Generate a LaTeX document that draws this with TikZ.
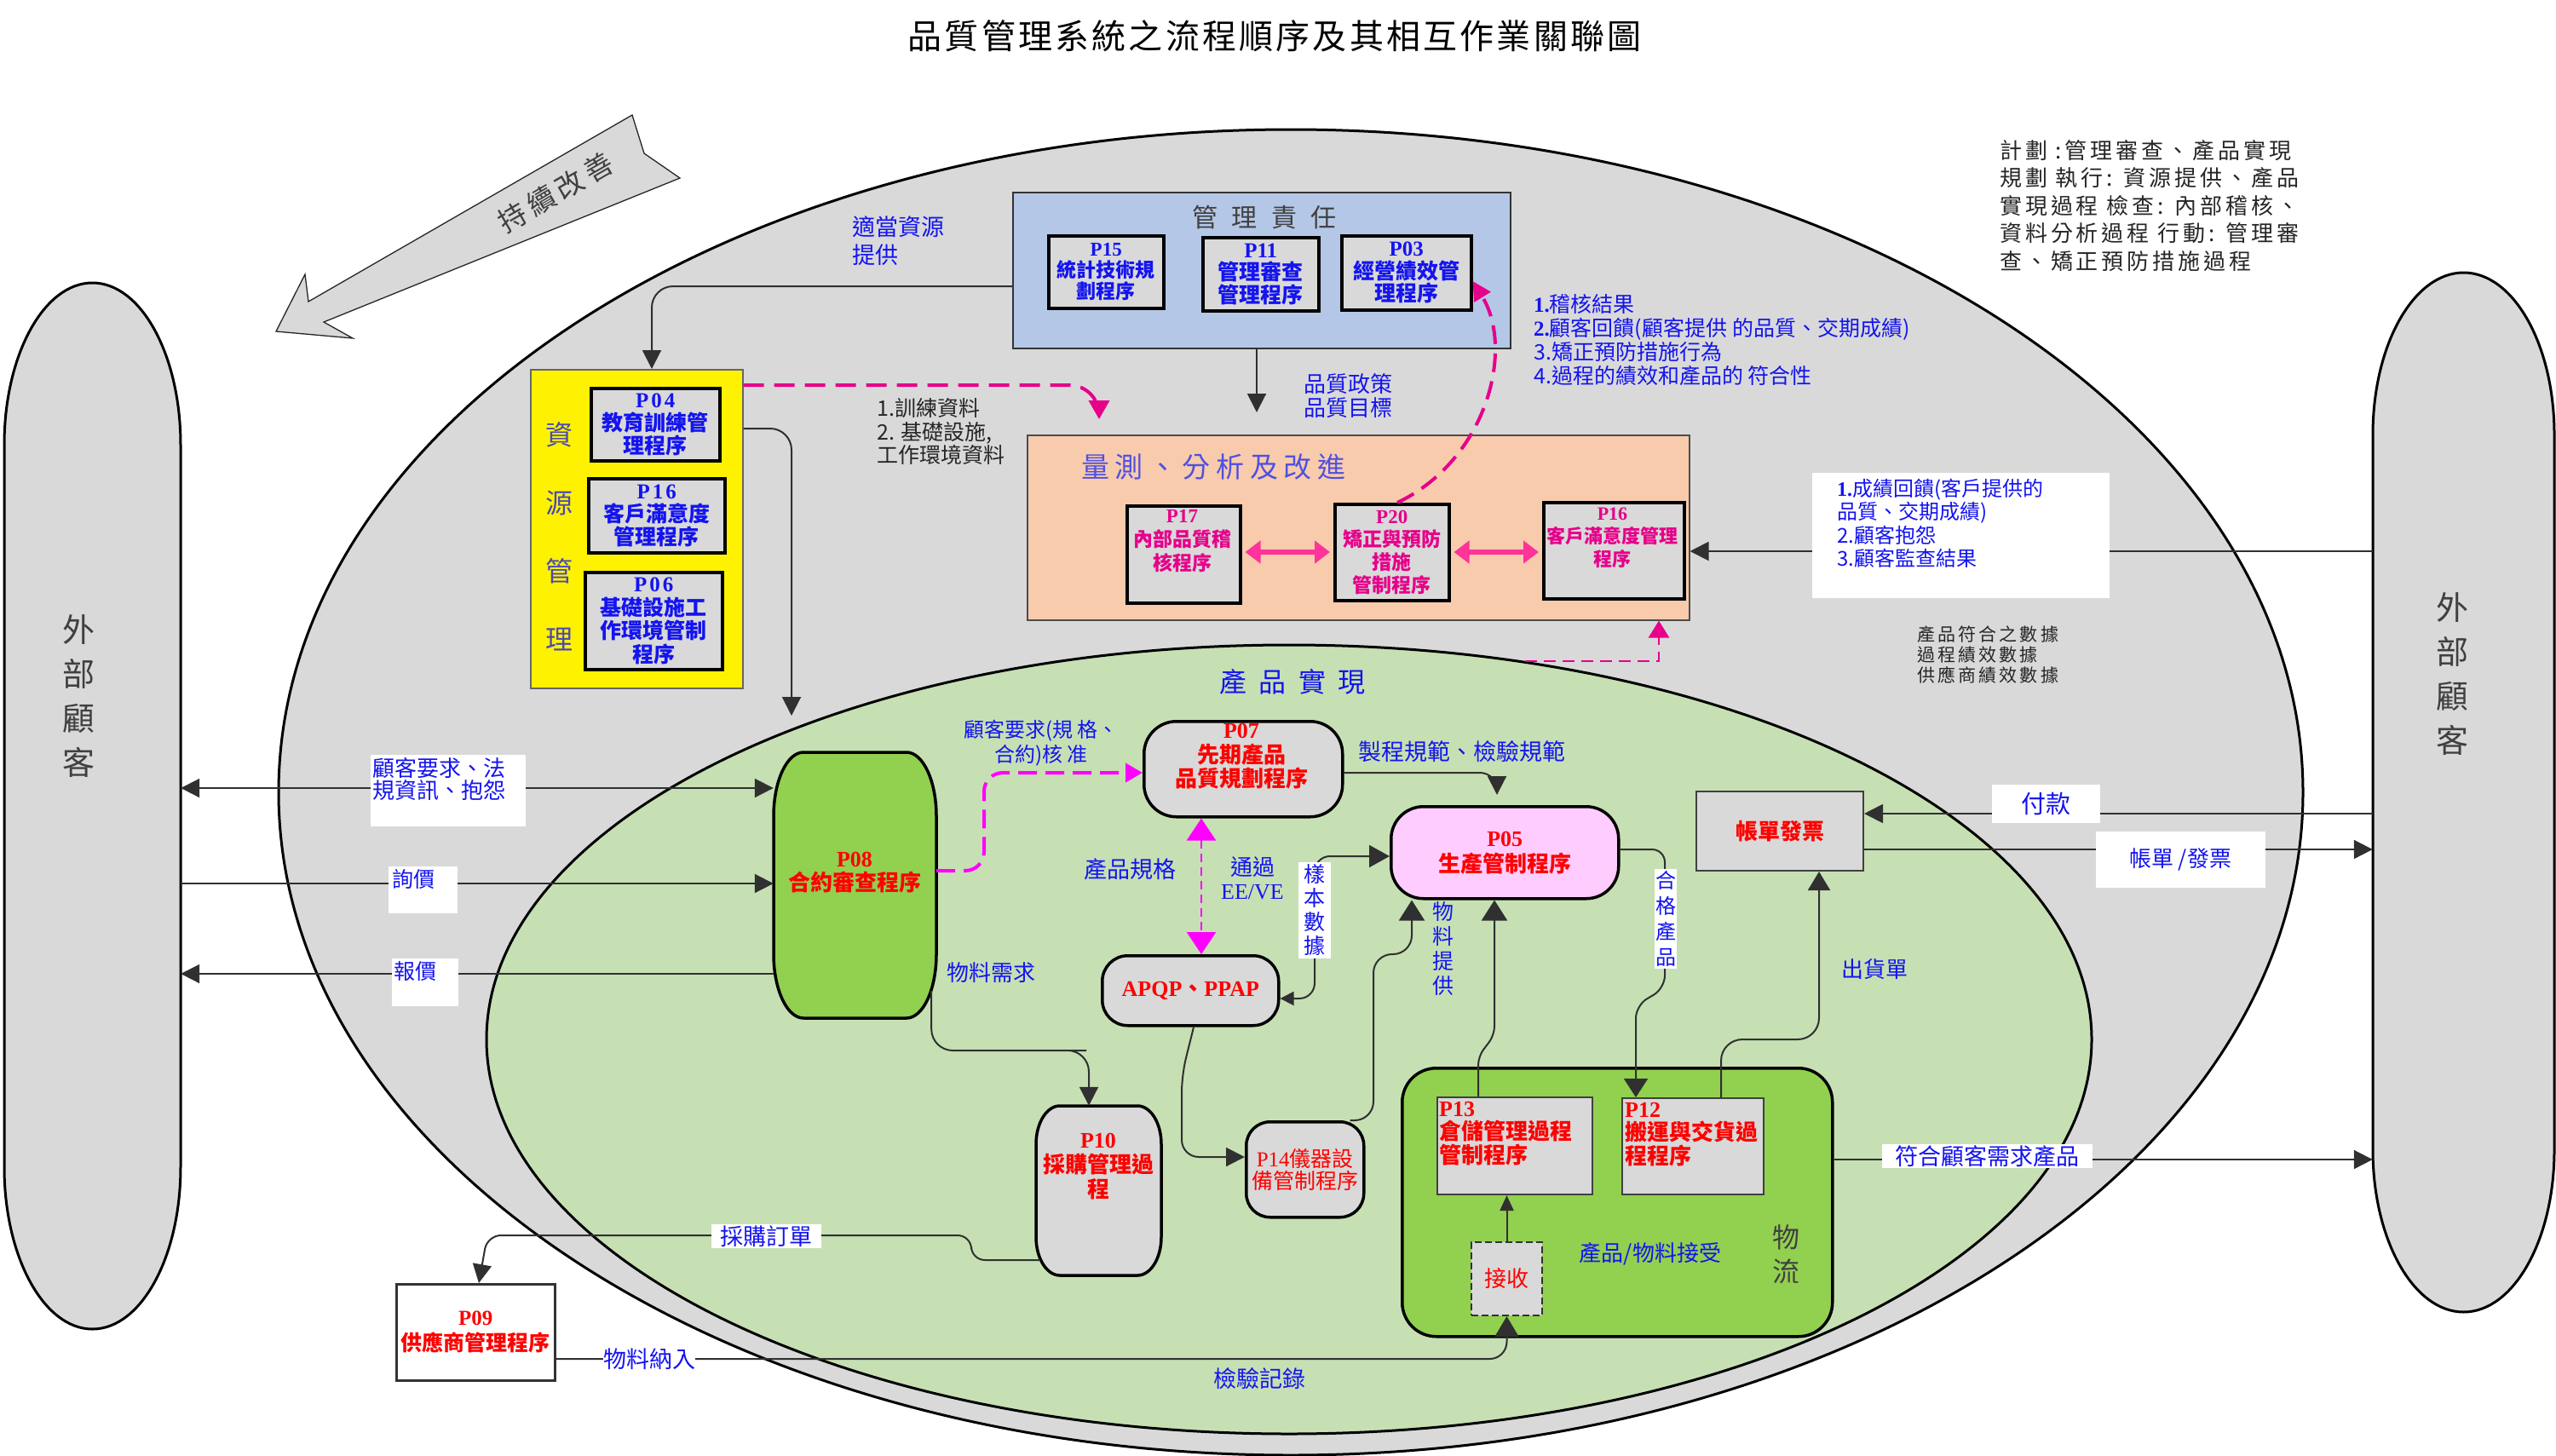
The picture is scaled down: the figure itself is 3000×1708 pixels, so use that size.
\documentclass[tikz,border=0pt]{standalone}
\usepackage{fontspec}
\setmainfont{Noto Sans CJK TC}
\newfontfamily\ser{Liberation Serif}
\newfontfamily\serw{Liberation Serif}[LetterSpace=12]
\usetikzlibrary{arrows.meta}
\newcommand\fsz[2]{\fontsize{#1}{#2}\selectfont}
\newcommand\serb[1]{{\ser\bfseries #1}}
\newcommand\serbw[1]{{\serw\bfseries #1}}
\newcommand\lsp[1]{\addfontfeatures{LetterSpace=#1}}
\definecolor{gbg}{HTML}{D9D9D9}
\definecolor{lgreen}{HTML}{C6E0B4}
\definecolor{dgreen}{HTML}{92D050}
\definecolor{bluebox}{HTML}{B4C7E7}
\definecolor{orangebox}{HTML}{F8CBAD}
\definecolor{pinkbox}{HTML}{FFCCFF}
\definecolor{tblue}{HTML}{1414F0}
\definecolor{tred}{HTML}{FF0000}
\definecolor{tmag}{HTML}{E6008A}
\definecolor{mag}{HTML}{FF00FF}
\definecolor{pinkarr}{HTML}{FF3399}
\definecolor{dgray}{HTML}{404040}
\definecolor{ltitle}{HTML}{5050E0}
\definecolor{resblue}{HTML}{4A4AB0}
\definecolor{lineg}{HTML}{303030}
\tikzset{
 conn/.style={draw=lineg, line width=2pt},
 arr/.style={-{Triangle[length=22pt,width=22pt]}},
 box/.style={draw=black, line width=3.5pt, fill=gbg, inner sep=0pt, anchor=north west},
 tbox/.style={draw=black!75, line width=2pt, fill=gbg, inner sep=0pt, anchor=north west},
 txt/.style={inner sep=0pt, align=center},
 lblbox/.style={fill=white, inner sep=0pt, anchor=north west},
 btxt/.style={inner sep=0pt, text=tblue, align=left},
}
\begin{document}
\begin{tikzpicture}[x=1pt,y=-1pt]
\useasboundingbox (0,0) rectangle (3000,1708);
\fill[white] (0,0) rectangle (3000,1708);

% title
\node[txt, font={\fsz{40}{48}\lsp{8}}] (title) at (1496,42) {品質管理系統之流程順序及其相互作業關聯圖};

% continuous improvement arrow
\draw[fill=gbg, draw=black!85, line width=1.3pt] (742,135) -- (756,180) -- (798,209) -- (380,378) -- (414,397) -- (324,389) -- (358,322) -- (362,354) -- cycle;
\node[txt, rotate=30, text=dgray, font={\fsz{33}{40}\lsp{18}}] (ci) at (652,226) {持續改善};

% ellipses
\draw[fill=gbg, line width=3pt] (1515,930) ellipse [x radius=1188, y radius=778];
\draw[fill=lgreen, line width=3pt] (1513,1220) ellipse [x radius=942, y radius=463];

% external customer pills
\draw[fill=gbg, line width=3pt] (5,522) .. controls (5,417) and (51.3,332) .. (108.5,332) .. controls (165.7,332) and (212,417) .. (212,522) -- (212,1370) .. controls (212,1475) and (165.7,1560) .. (108.5,1560) .. controls (51.3,1560) and (5,1475) .. (5,1370) -- cycle;
\node[inner sep=0pt, minimum width=207pt, minimum height=1228pt] (leftC) at (108.5,946) {};
\node[txt, text=dgray, font={\fsz{38}{52}}] (leftCt) at (92,817) {外\\部\\顧\\客};
\draw[fill=gbg, line width=3pt] (2785,510) .. controls (2785,405) and (2832.7,320) .. (2891.5,320) .. controls (2950.3,320) and (2998,405) .. (2998,510) -- (2998,1350) .. controls (2998,1455) and (2950.3,1540) .. (2891.5,1540) .. controls (2832.7,1540) and (2785,1455) .. (2785,1350) -- cycle;
\node[inner sep=0pt, minimum width=213pt, minimum height=1220pt] (rightC) at (2891.5,930) {};
\node[txt, text=dgray, font={\fsz{38}{52}}] (rightCt) at (2878,791) {外\\部\\顧\\客};

% PDCA text
\node[inner sep=0pt, align=left, anchor=north west, text=black!85, font={\fsz{26}{32.5}\lsp{15}}] (pdca) at (2347,164) {計劃 :管理審查、產品實現\\規劃 執行: 資源提供、產品\\實現過程 檢查: 內部稽核、\\資料分析過程 行動: 管理審\\查、矯正預防措施過程};

% management responsibility
\node[draw=black!80, line width=2pt, fill=bluebox, anchor=north west, minimum width=584pt, minimum height=183pt, inner sep=0pt] (mgmt) at (1188,225) {};
\node[txt, text=dgray, font={\fsz{30}{36}\lsp{55}}] (mgmtT) at (1484,255) {管理責任};
\node[box, minimum width=135pt, minimum height=85pt, align=center, text=tblue, font={\fsz{23}{25}\bfseries}] (P15) at (1229,275) {\serb{P15}\\統計技術規\\劃程序};
\node[box, minimum width=136pt, minimum height=86pt, align=center, text=tblue, font={\fsz{25}{26.5}\bfseries}] (P11) at (1410,277) {\serb{P11}\\管理審查\\管理程序};
\node[box, minimum width=152pt, minimum height=87pt, align=center, text=tblue, font={\fsz{25}{26.5}\bfseries}] (P03) at (1573,275) {\serb{P03}\\經營績效管\\理程序};

% resource management
\node[draw=black!60, line width=1.5pt, fill=yellow, anchor=north west, minimum width=249pt, minimum height=374pt, inner sep=0pt] (res) at (622,433) {};
\node[txt, text=resblue, font={\fsz{32}{80}}] (resT) at (656,630) {資\\源\\管\\理};
\node[box, minimum width=151pt, minimum height=85pt, align=center, text=tblue, font={\fsz{25}{27}\bfseries}] (P04) at (692,454) {\serbw{P04}\\教育訓練管\\理程序};
\node[box, minimum width=160pt, minimum height=87pt, align=center, text=tblue, font={\fsz{25}{27}\bfseries}] (P16a) at (689,560) {\serbw{P16}\\客戶滿意度\\管理程序};
\node[box, minimum width=161pt, minimum height=114pt, align=center, text=tblue, font={\fsz{25}{27.5}\bfseries}] (P06) at (685,670) {\serbw{P06}\\基礎設施工\\作環境管制\\程序};

% measurement
\node[draw=black!70, line width=1.5pt, fill=orangebox, anchor=north west, minimum width=777pt, minimum height=217pt, inner sep=0pt] (meas) at (1205,510) {};
\node[inner sep=0pt, anchor=west, text=ltitle, font={\fsz{33}{38}\lsp{20}}] (measT) at (1269,548) {量測、分析及改進};
\node[box, minimum width=133pt, minimum height=114pt] (P17) at (1321,592) {};
\node[txt, text=tmag, font={\fsz{23}{28}\bfseries}] (P17t) at (1387.5,635) {\serb{P17}\\內部品質稽\\核程序};
\node[box, minimum width=134pt, minimum height=113pt, align=center, text=tmag, font={\fsz{23}{27}\bfseries}] (P20) at (1565,590) {\serb{P20}\\矯正與預防\\措施\\管制程序};
\node[box, minimum width=165pt, minimum height=113pt] (P16b) at (1810,588) {};
\node[txt, text=tmag, font={\fsz{22}{27}\bfseries}] (P16bt) at (1892.5,631) {\serb{P16}\\客戶滿意度管理\\程序};

% product realization
\node[txt, text=tblue, font={\fsz{32}{36}\lsp{44}}] (prT) at (1517,800) {產品實現};

\draw[fill=dgreen, line width=3.5pt] (943,883) -- (1064,883) .. controls (1083.3,883) and (1099,916.6) .. (1099,958) -- (1099,1120) .. controls (1099,1161.4) and (1083.3,1195) .. (1064,1195) -- (943,1195) .. controls (923.7,1195) and (908,1161.4) .. (908,1120) -- (908,958) .. controls (908,916.6) and (923.7,883) .. (943,883) -- cycle;
\node[inner sep=0pt, minimum width=191pt, minimum height=312pt] (P08) at (1003.5,1039) {};
\node[txt, text=tred, font={\fsz{26}{28}\bfseries}] (P08t) at (1003,1024) {\serb{P08}\\合約審查程序};

\node[box, rounded corners=38pt, minimum width=233pt, minimum height=112pt] (P07) at (1341,845) {};
\node[txt, text=tred, font={\fsz{26}{28.5}\bfseries}] (P07t) at (1457,888) {\serb{P07}\\先期產品\\品質規劃程序};

\node[box, rounded corners=38pt, fill=pinkbox, minimum width=267pt, minimum height=108pt, align=center, text=tred, font={\fsz{26}{30}\bfseries}] (P05) at (1631,945) {\serb{P05}\\生產管制程序};

\node[box, rounded corners=30pt, minimum width=207pt, minimum height=82pt, text=tred, font={\fsz{26}{30}\bfseries}] (APQP) at (1292,1120) {\serb{APQP}、\serb{PPAP}};

\draw[fill=gbg, line width=3.5pt] (1244,1298) -- (1335,1298) .. controls (1350.5,1298) and (1363,1318.1) .. (1363,1343) -- (1363,1452) .. controls (1363,1476.9) and (1350.5,1497) .. (1335,1497) -- (1244,1497) .. controls (1228.5,1497) and (1216,1476.9) .. (1216,1452) -- (1216,1343) .. controls (1216,1318.1) and (1228.5,1298) .. (1244,1298) -- cycle;
\node[inner sep=0pt, minimum width=147pt, minimum height=199pt] (P10) at (1289.5,1397.5) {};
\node[txt, text=tred, font={\fsz{26}{29}\bfseries}] (P10t) at (1289,1369) {\serb{P10}\\採購管理過\\程};

\node[box, rounded corners=28pt, minimum width=138pt, minimum height=112pt, align=center, text=tred, font={\fsz{25}{25.5}}] (P14) at (1461,1315) {{\ser P14}儀器設\\備管制程序};

\node[draw=black, line width=3.5pt, fill=dgreen, rounded corners=40pt, anchor=north west, minimum width=505pt, minimum height=315pt, inner sep=0pt] (logi) at (1644,1252) {};
\node[tbox, minimum width=182pt, minimum height=114pt] (P13) at (1686,1287) {};
\node[inner sep=0pt, align=left, anchor=north west, text=tred, font={\fsz{26}{27.5}\bfseries}] (P13t) at (1689,1293) {\serb{P13}\\倉儲管理過程\\管制程序};
\node[tbox, minimum width=166pt, minimum height=113pt] (P12) at (1903,1288) {};
\node[inner sep=0pt, align=left, anchor=north west, text=tred, font={\fsz{26}{27.5}\bfseries}] (P12t) at (1907,1294) {\serb{P12}\\搬運與交貨過\\程程序};
\node[draw=black!80, line width=2pt, dash pattern=on 8pt off 4pt, fill=gbg, anchor=north west, minimum width=83pt, minimum height=86pt, inner sep=0pt, text=tred, font={\fsz{26}{30}}] (recv) at (1726,1457) {接收};

\node[tbox, minimum width=196pt, minimum height=93pt, text=tred, font={\fsz{26}{30}\bfseries}] (bill) at (1990,928) {帳單發票};

\node[draw=black!80, line width=2.5pt, fill=white, anchor=north west, minimum width=186pt, minimum height=113pt, inner sep=0pt, align=center, text=tred, font={\fsz{25}{30}\bfseries}] (P09) at (464,1506) {\serb{P09}\\供應商管理程序};

% ---------------- connectors ----------------
\draw[conn, arr, rounded corners=25pt] (mgmt.west |- 0,336) -| (res.north -| 765,0);
\draw[tmag, line width=4pt, dash pattern=on 24pt off 12pt, -{Triangle[length=22pt,width=24pt]}, rounded corners=35pt, shorten >=18pt] (res.east |- 0,452) -| (meas.north -| 1290,0);
\coordinate (gtop) at (929,840);
\draw[conn, arr, rounded corners=25pt] (res.east |- 0,503) -| (gtop);
\draw[conn, arr, shorten >=26pt] (mgmt.south -| 1475,0) -- (meas.north -| 1475,0);
\draw[tmag, line width=4pt, dash pattern=on 22pt off 11pt, -{Triangle[length=22pt,width=22pt]}] (P20.north -| 1640,0) .. controls (1745,540) and (1778,410) .. (P03.east |- 0,330);
\draw[pinkarr, line width=6pt, {Triangle[length=18pt,width=26pt]}-{Triangle[length=18pt,width=26pt]}, shorten <=4pt, shorten >=4pt] (P17.east |- 0,648) -- (P20.west |- 0,648);
\draw[pinkarr, line width=6pt, {Triangle[length=18pt,width=26pt]}-{Triangle[length=18pt,width=26pt]}, shorten <=4pt, shorten >=4pt] (P20.east |- 0,648) -- (P16b.west |- 0,648);
\draw[conn, arr] (rightC.west |- 0,647) -- (meas.east |- 0,647);
\coordinate (gmeas) at (1790,776);
\draw[tmag, line width=2.5pt, dash pattern=on 14pt off 8pt, -{Triangle[length=20pt,width=24pt]}] (gmeas) -| (meas.south -| 1947,0);

\draw[conn, {Triangle[length=22pt,width=22pt]}-{Triangle[length=22pt,width=22pt]}] (leftC.east |- 0,925) -- (P08.west |- 0,925);
\draw[conn, arr] (leftC.east |- 0,1037) -- (P08.west |- 0,1037);
\draw[conn, arr] (P08.west |- 0,1143) -- (leftC.east |- 0,1143);

\draw[mag, line width=4pt, dash pattern=on 22pt off 10pt, -{Triangle[length=20pt,width=22pt]}, rounded corners=22pt] (P08.east |- 0,1022) -- (1155,1022) -- (1155,907) -- (P07.west |- 0,907);
\draw[conn, arr, rounded corners=20pt, shorten >=12pt] (P07.east |- 0,907) -| (P05.north -| 1757,0);
\draw[mag, line width=2.5pt, dash pattern=on 10pt off 6pt, {Triangle[length=26pt,width=34pt]}-{Triangle[length=26pt,width=34pt]}] (P07.south -| 1410,0) -- (APQP.north -| 1410,0);
\draw[conn, {Triangle[length=16pt,width=16pt]}-{Triangle[length=24pt,width=26pt]}, rounded corners=18pt] (APQP.east |- 0,1172) -- (1543,1172) -- (1543,1005) -- (P05.west |- 0,1005);
\draw[conn, -{Triangle[length=24pt,width=30pt]}, rounded corners=22pt] ([xshift=-18pt]P14.north east) -| (1612,1120) -| (P05.south -| 1657,0);
\draw[conn, -{Triangle[length=24pt,width=30pt]}, rounded corners=10pt] (P13.north -| 1735,0) -- (1735,1240) -- (1754,1215) -- (P05.south -| 1754,0);
\draw[conn, -{Triangle[length=22pt,width=28pt]}, rounded corners=15pt] (P05.east |- 0,997) -- (1954,997) -- (1954,1160) -- (1920,1180) -- (P12.north -| 1920,0);
\draw[conn, -{Triangle[length=22pt,width=26pt]}, rounded corners=25pt] (P12.north -| 2020,0) |- (2080,1220) -| (bill.south -| 2135,0);
\draw[conn, arr] (rightC.west |- 0,955) -- (bill.east |- 0,955);
\draw[conn, arr] (bill.east |- 0,997) -- (rightC.west |- 0,997);
\draw[conn, arr] (logi.east |- 0,1361) -- (rightC.west |- 0,1361);
\draw[conn, arr, rounded corners=25pt] ([xshift=-6pt]P08.east |- 0,1163) |- (1250,1233) -| (P10.north -| 1278,0);
\draw[conn, arr, rounded corners=16pt] ([xshift=5pt]P10.west |- 0,1479) -- (1140,1479) -- (1140,1450) -- (572,1450) -- (P09.north -| 562,0);
\draw[conn, arr, rounded corners=20pt] (APQP.south -| 1401,0) -- (1387,1262) |- (P14.west |- 0,1358);
\draw[conn, -{Triangle[length=24pt,width=28pt]}, rounded corners=20pt] (P09.east |- 0,1595) -| (recv.south);
\draw[conn, -{Triangle[length=18pt,width=16pt]}] (recv.north) -- (recv.north |- P13.south);

% ---------------- labels ----------------
\node[lblbox, minimum width=182pt, minimum height=84pt] (lb1) at (435,886) {};
\node[btxt, anchor=north west, font={\fsz{26}{26}}] (lb1t) at (437,889) {顧客要求、法\\規資訊、抱怨};
\node[lblbox, minimum width=81pt, minimum height=55pt] (lb2) at (456,1017) {};
\node[btxt, anchor=west, font={\fsz{25}{30}}] (lb2t) at (460,1032) {詢價};
\node[lblbox, minimum width=78pt, minimum height=56pt] (lb3) at (460,1125) {};
\node[btxt, anchor=west, font={\fsz{25}{30}}] (lb3t) at (462,1140) {報價};
\node[fill=white, inner sep=0pt, minimum width=127pt, minimum height=45pt, text=tblue, font={\fsz{29}{34}}] (lb4) at (2401,943) {付款};
\node[fill=white, inner sep=0pt, minimum width=199pt, minimum height=66pt, text=tblue, font={\fsz{26}{30}}] (lb5) at (2559,1009) {帳單 /發票};
\node[fill=white, inner sep=0pt, minimum width=247pt, minimum height=28pt, text=tblue, font={\fsz{27}{30}}] (lb6) at (2332,1357) {符合顧客需求產品};
\node[lblbox, minimum width=349pt, minimum height=147pt] (fb) at (2127,555) {};
\node[btxt, anchor=north west, font={\fsz{24}{27.3}}] (fbt) at (2156,562) {\serb{1.}成績回饋(客戶提供的\\品質、交期成績)\\2.顧客抱怨\\3.顧客監查結果};
\node[fill=white, inner sep=0pt, minimum width=129pt, minimum height=28pt, text=tblue, font={\fsz{27}{30}}] (lb7) at (899,1451) {採購訂單};
\node[fill=white, inner ysep=2pt, inner xsep=0pt, text=tblue, font={\fsz{27}{30}}] (lb8) at (762,1595) {物料納入\hspace{25pt}};

\node[btxt, anchor=north west, font={\fsz{27}{33}}] (t1) at (1000,253.5) {適當資源\\提供};
\node[btxt, anchor=north west, font={\fsz{26}{28}}] (t2) at (1530,438) {品質政策\\品質目標};
\node[inner sep=0pt, align=left, anchor=north west, text=black!85, font={\fsz{25}{27.5}}] (t3) at (1029,467.5) {1.訓練資料\\2. 基礎設施,\\工作環境資料};
\node[btxt, anchor=north west, font={\fsz{25}{28}}] (t4) at (1800,345.5) {\serb{1.}稽核結果\\\serb{2.}顧客回饋(顧客提供 的品質、交期成績)\\3.矯正預防措施行為\\4.過程的績效和產品的 符合性};
\node[inner sep=0pt, align=left, anchor=north west, text=black!85, font={\fsz{21}{24}\lsp{15}}] (t5) at (2250,734.5) {產品符合之數據\\過程績效數據\\供應商績效數據};
\node[txt, text=tblue, font={\fsz{24}{29}}] (t6) at (1222,872) {顧客要求(規 格、\\合約)核 准};
\node[txt, text=tblue, font={\fsz{27}{30}}] (t7) at (1716,882) {製程規範、檢驗規範};
\node[txt, text=tblue, font={\fsz{27}{30}}] (t8) at (1326,1020) {產品規格};
\node[txt, text=tblue, font={\fsz{26}{28}}] (t9) at (1470,1031) {通過\\{\ser EE/VE}};
\node[txt, text=tblue, font={\fsz{26}{30}}] (t10) at (1163,1142) {物料需求};
\node[txt, text=tblue, font={\fsz{25}{29}}] (t11) at (1694,1113) {物\\料\\提\\供};
\node[txt, text=tblue, font={\fsz{26}{30}}] (t12) at (2200,1138) {出貨單};
\node[txt, text=tblue, font={\fsz{26}{30}}] (t13) at (1937,1472) {產品/物料接受};
\node[txt, text=dgray, font={\fsz{32}{40}}] (t14) at (2096,1472) {物\\流};
\node[txt, text=tblue, font={\fsz{27}{30}}] (t15) at (1478,1618) {檢驗記錄};
\node[fill=white, inner sep=0pt, minimum width=38pt, minimum height=113pt, align=center, text=tblue, font={\fsz{25}{28}}] (v1) at (1543,1068) {樣\\本\\數\\據};
\node[fill=white, inner sep=0pt, minimum width=26pt, minimum height=117pt, align=center, text=tblue, font={\fsz{24}{30}}] (v2) at (1955,1078) {合\\格\\產\\品};
\end{tikzpicture}
\end{document}
